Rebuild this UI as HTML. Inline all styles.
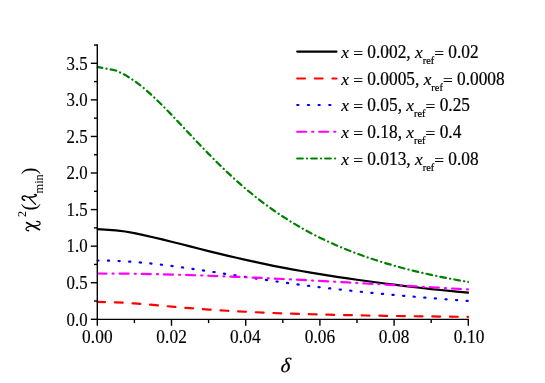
<!DOCTYPE html>
<html><head><meta charset="utf-8"><title>chart</title>
<style>html,body{margin:0;padding:0;background:#fff;}svg{display:block;will-change:transform;}</style></head>
<body>
<svg width="545" height="383" viewBox="0 0 545 383">
<rect width="545" height="383" fill="#fff"/>

<clipPath id="pc"><rect x="96.7" y="40" width="372.2" height="281"/></clipPath>
<g fill="none" stroke-width="2.2" stroke-linejoin="round" clip-path="url(#pc)">
<path d="M97.30,229.22 L115.85,230.31 L125.12,231.53 L134.40,233.15 L143.67,235.10 L152.95,237.21 L162.22,239.41 L171.50,241.70 L180.77,244.01 L190.05,246.41 L199.32,248.79 L208.60,251.10 L217.87,253.36 L227.15,255.59 L236.42,257.74 L245.70,259.86 L254.97,261.92 L264.25,263.90 L273.52,265.80 L282.80,267.61 L292.07,269.34 L301.35,271.00 L310.62,272.61 L319.90,274.15 L329.17,275.63 L338.45,277.06 L347.72,278.44 L357.00,279.75 L366.27,281.01 L375.55,282.27 L384.82,283.49 L394.10,284.68 L403.37,285.83 L412.65,286.94 L421.92,288.02 L431.20,289.05 L440.47,290.03 L449.75,290.93 L459.02,291.79 L468.30,292.63 L469.00,292.69" stroke="#000" stroke-linecap="round"/>
<path d="M97.30,301.89 L115.85,302.30 L125.12,302.78 L134.40,303.42 L143.67,304.16 L152.95,304.96 L162.22,305.80 L171.50,306.61 L180.77,307.41 L190.05,308.17 L199.32,308.89 L208.60,309.56 L217.87,310.18 L227.15,310.75 L236.42,311.27 L245.70,311.74 L254.97,312.19 L264.25,312.61 L273.52,312.99 L282.80,313.34 L292.07,313.67 L301.35,313.96 L310.62,314.23 L319.90,314.48 L329.17,314.72 L338.45,314.93 L347.72,315.13 L357.00,315.32 L366.27,315.49 L375.55,315.65 L384.82,315.81 L394.10,315.95 L403.37,316.09 L412.65,316.22 L421.92,316.34 L431.20,316.46 L440.47,316.57 L449.75,316.68 L459.02,316.78 L468.30,316.88 L469.00,316.89" stroke="#ff0000" stroke-dasharray="7.85 9.81" stroke-linecap="round" stroke-dashoffset="0.1"/>
<path d="M97.30,260.46 L115.85,260.86 L125.12,261.33 L134.40,261.97 L143.67,262.77 L152.95,263.72 L162.22,264.78 L171.50,265.95 L180.77,267.20 L190.05,268.52 L199.32,269.89 L208.60,271.29 L217.87,272.70 L227.15,274.12 L236.42,275.53 L245.70,276.93 L254.97,278.32 L264.25,279.71 L273.52,281.07 L282.80,282.39 L292.07,283.67 L301.35,284.92 L310.62,286.12 L319.90,287.24 L329.17,288.33 L338.45,289.38 L347.72,290.39 L357.00,291.37 L366.27,292.31 L375.55,293.22 L384.82,294.11 L394.10,294.96 L403.37,295.79 L412.65,296.59 L421.92,297.37 L431.20,298.13 L440.47,298.86 L449.75,299.58 L459.02,300.27 L468.30,300.95 L469.00,301.00" stroke="#0000ff" stroke-dasharray="1.20 9.42" stroke-linecap="round" stroke-dashoffset="0.0"/>
<path d="M97.30,273.50 L115.85,273.56 L125.12,273.65 L134.40,273.77 L143.67,273.92 L152.95,274.10 L162.22,274.31 L171.50,274.54 L180.77,274.81 L190.05,275.09 L199.32,275.40 L208.60,275.73 L217.87,276.09 L227.15,276.45 L236.42,276.84 L245.70,277.24 L254.97,277.66 L264.25,278.09 L273.52,278.53 L282.80,278.99 L292.07,279.45 L301.35,279.93 L310.62,280.41 L319.90,280.91 L329.17,281.41 L338.45,281.92 L347.72,282.43 L357.00,282.95 L366.27,283.48 L375.55,284.01 L384.82,284.55 L394.10,285.09 L403.37,285.63 L412.65,286.18 L421.92,286.72 L431.20,287.27 L440.47,287.82 L449.75,288.37 L459.02,288.92 L468.30,289.47 L469.00,289.52" stroke="#ff00ff" stroke-dasharray="9.07 6.05 1.10 5.96" stroke-linecap="round" stroke-dashoffset="-0.1"/>
<path d="M97.30,66.82 L115.85,70.47 L125.12,74.89 L134.40,80.82 L143.67,88.02 L152.95,96.25 L162.22,105.24 L171.50,114.75 L180.77,124.55 L190.05,134.45 L199.32,144.27 L208.60,153.88 L217.87,163.20 L227.15,172.15 L236.42,180.67 L245.70,188.76 L254.97,196.38 L264.25,203.54 L273.52,210.26 L282.80,216.54 L292.07,222.40 L301.35,227.86 L310.62,232.96 L319.90,237.70 L329.17,242.12 L338.45,246.23 L347.72,250.06 L357.00,253.63 L366.27,256.96 L375.55,260.06 L384.82,262.96 L394.10,265.67 L403.37,268.20 L412.65,270.56 L421.92,272.78 L431.20,274.86 L440.47,276.81 L449.75,278.64 L459.02,280.36 L468.30,281.97 L469.00,282.10" stroke="#008000" stroke-dasharray="5.70 4.22 0.15 4.14" stroke-linecap="round" stroke-dashoffset="0.6"/>
</g>
<g stroke="#000" stroke-width="1.4" fill="none"><path d="M97.3,44.2 L97.3,320.0" stroke-width="1.4"/><path d="M96.6,319.35 L469.0,319.35" stroke-width="1.3"/><path d="M90.80,319.30 L97.3,319.30"/><path d="M94.00,301.01 L97.3,301.01"/><path d="M90.80,282.73 L97.3,282.73"/><path d="M94.00,264.44 L97.3,264.44"/><path d="M90.80,246.16 L97.3,246.16"/><path d="M94.00,227.88 L97.3,227.88"/><path d="M90.80,209.59 L97.3,209.59"/><path d="M94.00,191.31 L97.3,191.31"/><path d="M90.80,173.02 L97.3,173.02"/><path d="M94.00,154.74 L97.3,154.74"/><path d="M90.80,136.45 L97.3,136.45"/><path d="M94.00,118.17 L97.3,118.17"/><path d="M90.80,99.88 L97.3,99.88"/><path d="M94.00,81.59 L97.3,81.59"/><path d="M90.80,63.31 L97.3,63.31"/><path d="M94.00,45.03 L97.3,45.03"/><path d="M97.30,319.3 L97.30,325.80"/><path d="M134.40,319.3 L134.40,323.10"/><path d="M171.50,319.3 L171.50,325.80"/><path d="M208.60,319.3 L208.60,323.10"/><path d="M245.70,319.3 L245.70,325.80"/><path d="M282.80,319.3 L282.80,323.10"/><path d="M319.90,319.3 L319.90,325.80"/><path d="M357.00,319.3 L357.00,323.10"/><path d="M394.10,319.3 L394.10,325.80"/><path d="M431.20,319.3 L431.20,323.10"/><path d="M468.30,319.3 L468.30,325.80"/></g>
<g font-family="Liberation Serif, serif" font-size="17.33" fill="#000" stroke="#000" stroke-width="0.15"><text transform="translate(87.6,325.60) scale(0.97,1.05)" text-anchor="end">0.0</text><text transform="translate(87.6,289.03) scale(0.97,1.05)" text-anchor="end">0.5</text><text transform="translate(87.6,252.46) scale(0.97,1.05)" text-anchor="end">1.0</text><text transform="translate(87.6,215.89) scale(0.97,1.05)" text-anchor="end">1.5</text><text transform="translate(87.6,179.32) scale(0.97,1.05)" text-anchor="end">2.0</text><text transform="translate(87.6,142.75) scale(0.97,1.05)" text-anchor="end">2.5</text><text transform="translate(87.6,106.18) scale(0.97,1.05)" text-anchor="end">3.0</text><text transform="translate(87.6,69.61) scale(0.97,1.05)" text-anchor="end">3.5</text><text transform="translate(97.40,342.7) scale(1,1.045)" text-anchor="middle" letter-spacing="0.1">0.00</text><text transform="translate(171.60,342.7) scale(1,1.045)" text-anchor="middle" letter-spacing="0.1">0.02</text><text transform="translate(245.40,342.7) scale(1,1.045)" text-anchor="middle" letter-spacing="0.1">0.04</text><text transform="translate(320.00,342.7) scale(1,1.045)" text-anchor="middle" letter-spacing="0.1">0.06</text><text transform="translate(394.20,342.7) scale(1,1.045)" text-anchor="middle" letter-spacing="0.1">0.08</text><text transform="translate(469.20,342.7) scale(1,1.045)" text-anchor="middle" letter-spacing="0.1">0.10</text></g>
<g fill="none" stroke-width="2.2"><path d="M297.2,51.6 L336.5,51.6" stroke="#000" stroke-linecap="round"/><path d="M297.2,78.5 L336.5,78.5" stroke="#ff0000" stroke-dasharray="7.80 9.80" stroke-linecap="round"/><path d="M297.2,105.0 L336.5,105.0" stroke="#0000ff" stroke-dasharray="1.20 9.47" stroke-linecap="round"/><path d="M297.2,131.75 L336.5,131.75" stroke="#ff00ff" stroke-dasharray="9.00 6.00 1.10 5.90" stroke-linecap="round"/><path d="M297.2,158.5 L336.5,158.5" stroke="#008000" stroke-dasharray="5.60 4.20 0.10 4.10" stroke-linecap="round"/></g><g font-family="Liberation Serif, serif" font-size="17.33" fill="#000" stroke="#000" stroke-width="0.2"><g transform="translate(341.2,57.60)"><text transform="translate(0.00,0.00) scale(1,1.0)" font-style="italic" xml:space="preserve">x</text><text transform="translate(12.02,1.30) scale(1,1.0)" xml:space="preserve">=</text><text transform="translate(26.13,0.00) scale(1,1.065)" xml:space="preserve">0.002,</text><text transform="translate(73.79,0.00) scale(1,1.0)" font-style="italic" xml:space="preserve">x</text><text transform="translate(81.48,6.20) scale(1,1.065)" font-size="10.4" xml:space="preserve">ref</text><text transform="translate(93.02,1.30) scale(1,1.0)" xml:space="preserve">=</text><text transform="translate(107.13,0.00) scale(1,1.065)" xml:space="preserve">0.02</text></g><g transform="translate(341.2,84.50)"><text transform="translate(0.00,0.00) scale(1,1.0)" font-style="italic" xml:space="preserve">x</text><text transform="translate(12.02,1.30) scale(1,1.0)" xml:space="preserve">=</text><text transform="translate(26.13,0.00) scale(1,1.065)" xml:space="preserve">0.0005,</text><text transform="translate(82.45,0.00) scale(1,1.0)" font-style="italic" xml:space="preserve">x</text><text transform="translate(90.14,6.20) scale(1,1.065)" font-size="10.4" xml:space="preserve">ref</text><text transform="translate(101.69,1.30) scale(1,1.0)" xml:space="preserve">=</text><text transform="translate(115.79,0.00) scale(1,1.065)" xml:space="preserve">0.0008</text></g><g transform="translate(341.2,111.00)"><text transform="translate(0.00,0.00) scale(1,1.0)" font-style="italic" xml:space="preserve">x</text><text transform="translate(12.02,1.30) scale(1,1.0)" xml:space="preserve">=</text><text transform="translate(26.13,0.00) scale(1,1.065)" xml:space="preserve">0.05,</text><text transform="translate(65.12,0.00) scale(1,1.0)" font-style="italic" xml:space="preserve">x</text><text transform="translate(72.81,6.20) scale(1,1.065)" font-size="10.4" xml:space="preserve">ref</text><text transform="translate(84.36,1.30) scale(1,1.0)" xml:space="preserve">=</text><text transform="translate(98.46,0.00) scale(1,1.065)" xml:space="preserve">0.25</text></g><g transform="translate(341.2,137.75)"><text transform="translate(0.00,0.00) scale(1,1.0)" font-style="italic" xml:space="preserve">x</text><text transform="translate(12.02,1.30) scale(1,1.0)" xml:space="preserve">=</text><text transform="translate(26.13,0.00) scale(1,1.065)" xml:space="preserve">0.18,</text><text transform="translate(65.12,0.00) scale(1,1.0)" font-style="italic" xml:space="preserve">x</text><text transform="translate(72.81,6.20) scale(1,1.065)" font-size="10.4" xml:space="preserve">ref</text><text transform="translate(84.36,1.30) scale(1,1.0)" xml:space="preserve">=</text><text transform="translate(98.46,0.00) scale(1,1.065)" xml:space="preserve">0.4</text></g><g transform="translate(341.2,164.50)"><text transform="translate(0.00,0.00) scale(1,1.0)" font-style="italic" xml:space="preserve">x</text><text transform="translate(12.02,1.30) scale(1,1.0)" xml:space="preserve">=</text><text transform="translate(26.13,0.00) scale(1,1.065)" xml:space="preserve">0.013,</text><text transform="translate(73.79,0.00) scale(1,1.0)" font-style="italic" xml:space="preserve">x</text><text transform="translate(81.48,6.20) scale(1,1.065)" font-size="10.4" xml:space="preserve">ref</text><text transform="translate(93.02,1.30) scale(1,1.0)" xml:space="preserve">=</text><text transform="translate(107.13,0.00) scale(1,1.065)" xml:space="preserve">0.08</text></g></g>
<g font-family="Liberation Serif, serif" fill="#000"><text transform="translate(285.1,372.2) skewX(-6)" font-size="20.6" font-style="italic" text-anchor="middle" stroke="#000" stroke-width="0.25">δ</text><g transform="translate(36.2,0) rotate(-90)"><text x="-216.90" y="-10.3" font-size="12">2</text><text x="-210.50" y="0" font-size="20.5">(</text><text x="-193.50" y="6.6" font-size="12.4">min</text><text x="-174.50" y="0" font-size="20.5">)</text></g><g fill="none" stroke="#000" stroke-linecap="round" stroke-linejoin="round" transform="translate(0,0.8)"><path d="M24.6,199.5 Q22.1,198.6 22.2,196.9 Q22.7,195.1 24.6,195.3 C26,195.5 27.4,196.4 28.7,196.4 L32.5,196.1 C34,195.95 35,195.7 35.7,195.3 Q36.6,194.7 36.1,194.1 Q35.5,193.5 34.5,193.8" stroke-width="1.5"/><path d="M28.9,196.8 L35.6,203.6" stroke-width="1.25"/></g><g fill="none" stroke="#000" stroke-linejoin="round"><path d="M26.0,222.3 L40.0,230.0" stroke-width="1.75"/><path d="M36.9,221.3 C39.0,221.2 40.4,222.5 40.1,223.9 C39.8,225.2 37.5,225.7 34.5,225.8 L32.3,225.85 C30.5,226.0 28.5,226.6 26.9,227.4 C25.6,228.2 25.6,229.6 26.8,230.3 C27.4,230.7 28.1,230.8 28.7,230.7" stroke-width="1.2" stroke-linecap="round"/><circle cx="37.2" cy="221.4" r="0.75" fill="#000" stroke="none"/><circle cx="28.4" cy="230.6" r="0.75" fill="#000" stroke="none"/></g></g>
</svg>
</body></html>
